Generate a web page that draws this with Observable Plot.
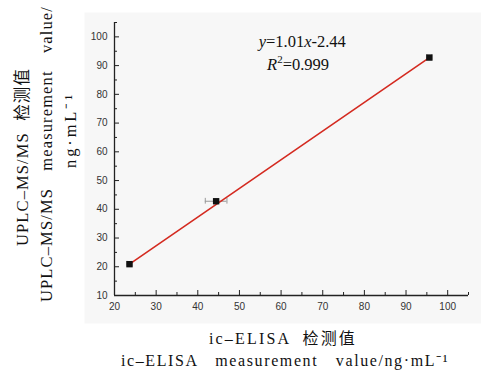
<!DOCTYPE html>
<html><head><meta charset="utf-8">
<script src="https://cdn.jsdelivr.net/npm/d3@7"></script>
<script src="https://cdn.jsdelivr.net/npm/@observablehq/plot@0.6"></script>
<style>
html,body{margin:0;padding:0;background:#fff;}
</style>
</head><body><div id="chart"></div>
<script>
// data
const elisa = [23.6, 44.4, 95.6];        // x: ic-ELISA value
const uplc = [20.9, 42.8, 92.8];         // y: UPLC-MS/MS value
const xErr = [0.6, 2.6, 0.6];            // x error
const fitX = [23.6, 95.6];
const fitY = [20.9, 92.8];
const xMajor = [20, 30, 40, 50, 60, 70, 80, 90, 100];
const xMinor = [25, 35, 45, 55, 65, 75, 85, 95, 105];
const yMajor = [10, 20, 30, 40, 50, 60, 70, 80, 90, 100];
const yMinor = [15, 25, 35, 45, 55, 65, 75, 85, 95, 105];
const yTitle = ["UPLC–MS/MS 检测值", "UPLC–MS/MS measurement value/", "ng·mL⁻¹"];
const xTitle = ["ic–ELISA 检测值", "ic–ELISA measurement value/ng·mL⁻¹"];

const points = elisa.map((x, i) => ({x, y: uplc[i], e: xErr[i]}));
const fit = fitX.map((x, i) => ({x, y: fitY[i]}));

const W = 481, H = 370, mL = 114, mR = 13, mT = 22, mB = 75;
const fh = H - mT - mB, fw = W - mL - mR;
const serif = "'Liberation Serif','Times New Roman','Noto Sans CJK SC',serif";

const plot = Plot.plot({
  width: W, height: H,
  marginLeft: mL, marginRight: mR, marginTop: mT, marginBottom: mB,
  style: {fontFamily: "'Liberation Sans',Arial,sans-serif", fontSize: "10px", color: "#333", background: "transparent", overflow: "visible"},
  x: {type: "linear", domain: [20, 105]},
  y: {type: "linear", domain: [10, 105]},
  marks: [
    Plot.frame({fill: "#f7f7f7", stroke: "none", insetLeft: -30, insetTop: -10, insetRight: -13, insetBottom: -28}),
    Plot.axisX(xMajor, {tickSize: 0, tickPadding: 7, label: null, fontSize: 10}),
    Plot.axisY(yMajor, {tickSize: 0, tickPadding: 7, label: null, fontSize: 10}),
    Plot.tickX(xMajor, {x: d => d, insetTop: fh - 5, stroke: "#222"}),
    Plot.tickX(xMinor, {x: d => d, insetTop: fh - 3, stroke: "#222"}),
    Plot.tickY(yMajor, {y: d => d, insetRight: fw - 5, stroke: "#222"}),
    Plot.tickY(yMinor, {y: d => d, insetRight: fw - 3, stroke: "#222"}),
    Plot.ruleY([10], {stroke: "#222", strokeWidth: 1.3}),
    Plot.ruleX([20], {stroke: "#222", strokeWidth: 1.3}),
    Plot.ruleY(points, {y: "y", x1: d => d.x - d.e, x2: d => d.x + d.e, stroke: "#999", strokeWidth: 1}),
    Plot.ruleX(points, {x: d => d.x - d.e, y1: d => d.y - 1, y2: d => d.y + 1, stroke: "#999"}),
    Plot.ruleX(points, {x: d => d.x + d.e, y1: d => d.y - 1, y2: d => d.y + 1, stroke: "#999"}),
    Plot.line(fit, {x: "x", y: "y", stroke: "#d42a20", strokeWidth: 1.6}),
    Plot.dot(points, {x: "x", y: "y", symbol: "square", r: 3.6, fill: "#111", stroke: "none"})
  ]
});
document.getElementById("chart").appendChild(plot);

const svg = d3.select(plot);
const sx = plot.scale("x"), sy = plot.scale("y");

// axis titles: wide word gaps plus a little letter spacing to reach the reference width
const titles = svg.append("g").attr("font-family", serif).attr("fill", "#111").attr("text-anchor", "middle");
function title(str, x, y, target, rot, size, ws) {
  const t = titles.append("text")
    .attr("transform", `translate(${x},${y})` + (rot ? ` rotate(${rot})` : ""))
    .attr("dy", "0.35em")
    .attr("font-size", size)
    .text(str);
  const natural = t.node().getComputedTextLength();
  const spaces = (str.match(/ /g) || []).length;
  const n = [...str].length;
  let ls = (target - natural - spaces * ws) / n;
  if (ls < 0) { ls = 0; ws = Math.max(0, (target - natural) / Math.max(spaces, 1)); }
  t.attr("word-spacing", ws).attr("letter-spacing", ls.toFixed(2));
}
title(xTitle[0], 283, 338, 148, 0, 16, 6);
title(xTitle[1], 285, 360, 328, 0, 16, 12);
title(yTitle[0], 22, 157, 178, -90, 16.5, 6);
title(yTitle[1], 46, 154, 296, -90, 16.5, 12);
title(yTitle[2], 70, 130, 76, -90, 16.5, 0);

// regression annotation with italic parts
const ann = svg.append("g").attr("font-family", serif).attr("font-size", 16.5).attr("fill", "#111").attr("text-anchor", "middle");
const t1 = ann.append("text").attr("x", sx.apply(65.2)).attr("y", sy.apply(98.3)).attr("dy", "0.35em");
t1.append("tspan").attr("font-style", "italic").text("y");
t1.append("tspan").text("=1.01");
t1.append("tspan").attr("font-style", "italic").text("x");
t1.append("tspan").text("-2.44");
const t2 = ann.append("text").attr("x", sx.apply(64.2)).attr("y", sy.apply(90.3)).attr("dy", "0.35em");
t2.append("tspan").attr("font-style", "italic").text("R");
t2.append("tspan").attr("font-size", 11).attr("dy", "-0.6em").text("2");
t2.append("tspan").attr("dy", "0.4em").text("=0.999");
</script>
</body></html>
